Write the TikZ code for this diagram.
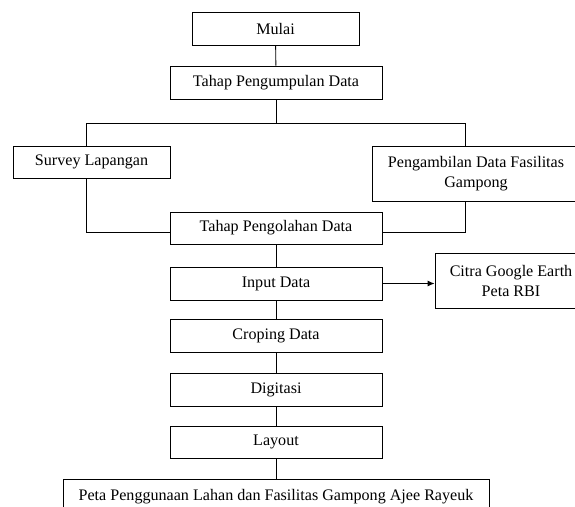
\documentclass[tikz,border=0pt]{standalone}
\usepackage{fontspec}
\setmainfont{Liberation Serif}
\usetikzlibrary{arrows.meta}
\begin{document}
\begin{tikzpicture}[x=1pt,y=-1pt,
  box/.style={draw=black, line width=0.9pt, inner sep=0pt, align=center,
    font=\fontsize{16.1}{20}\selectfont, minimum height=33},
  mainbox/.style={box, minimum width=212},
  link/.style={draw=black, line width=0.9pt},
  arr/.style={link, -{Latex[length=7pt,width=6pt]}}]
\useasboundingbox (0,0) rectangle (575,506);
\node[box, minimum width=167] (mulai) at (275.5,28.5) {Mulai};
\node[mainbox] (kumpul) at (276,82.5) {Tahap Pengumpulan Data};
\node[box, minimum width=157, minimum height=32] (survey) at (91.5,162) {Survey Lapangan};
\node[box, minimum width=208, minimum height=55] (ambil) at (476,173.5) {Pengambilan Data Fasilitas\\Gampong};
\node[mainbox, minimum height=32] (olah) at (276,228) {Tahap Pengolahan Data};
\node[mainbox] (input) at (276,283.5) {Input Data};
\node[box, minimum width=152, minimum height=55] (citra) at (511,280.5) {Citra Google Earth\\Peta RBI};
\node[mainbox] (crop) at (276,335.5) {Croping Data};
\node[mainbox] (digit) at (276,389.5) {Digitasi};
\node[mainbox, minimum height=32] (layout) at (276,442) {Layout};
\node[box, minimum width=426, minimum height=36] (peta) at (276,497) {Peta Penggunaan Lahan dan Fasilitas Gampong Ajee Rayeuk};
\coordinate (split) at (276,123);
\coordinate (jl) at (86,232);
\coordinate (jr) at (465,232);
\draw[link] (mulai) -- (kumpul);
\draw[link] (kumpul) -- (split);
\draw[link] (split) -| (survey.north -| 86,0);
\draw[link] (split) -| (ambil.north -| 465,0);
\draw[link] (survey.south -| jl) -- (jl) -- (olah.west |- jl);
\draw[link] (ambil.south -| jr) -- (jr) -- (olah.east |- jr);
\draw[link] (olah) -- (input);
\draw[arr] (input.east) -- (input.east -| citra.west);
\draw[link] (input) -- (crop);
\draw[link] (crop) -- (digit);
\draw[link] (digit) -- (layout);
\draw[link] (layout) -- (peta);
\end{tikzpicture}
\end{document}
